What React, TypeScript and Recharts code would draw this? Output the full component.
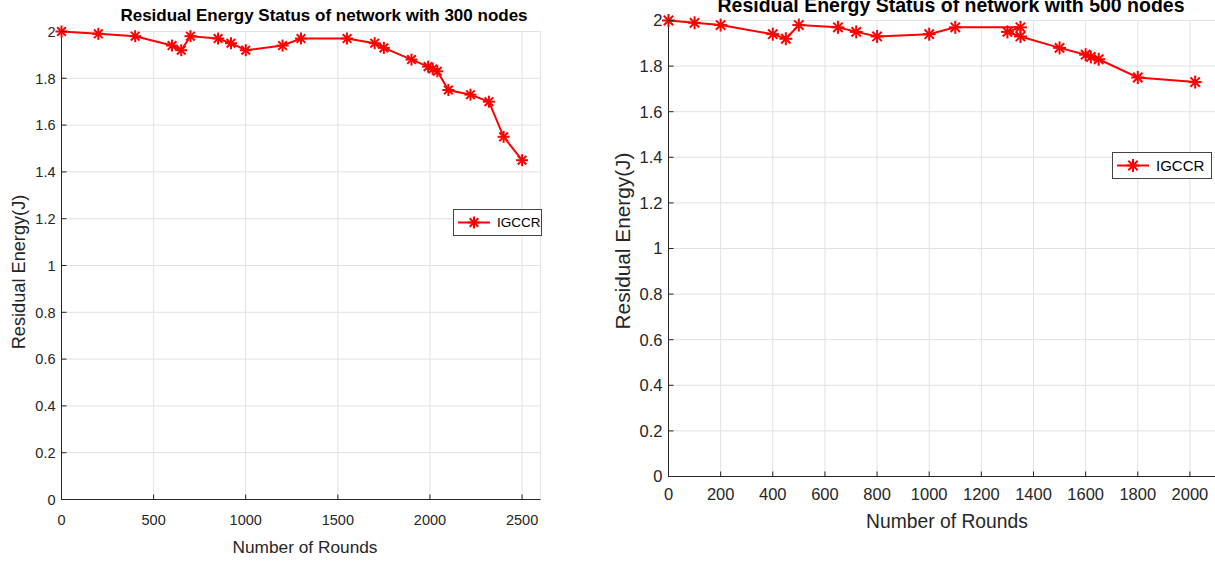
import React from 'react';
import { CartesianGrid, Legend, Line, LineChart, XAxis, YAxis } from 'recharts';

// 300-node network
const rounds300 = [0, 200, 400, 600, 650, 700, 850, 920, 1000, 1200, 1300, 1550, 1700, 1750, 1900, 1990, 2015, 2040, 2100, 2220, 2320, 2400, 2500];
const energy300 = [2.0, 1.99, 1.98, 1.94, 1.92, 1.98, 1.97, 1.95, 1.92, 1.94, 1.97, 1.97, 1.95, 1.93, 1.88, 1.85, 1.84, 1.83, 1.75, 1.73, 1.7, 1.55, 1.45];
const xTicks300 = [0, 500, 1000, 1500, 2000, 2500];

// 500-node network
const rounds500 = [0, 100, 200, 400, 450, 500, 650, 720, 800, 1000, 1100, 1350, 1300, 1350, 1500, 1600, 1620, 1650, 1800, 2020];
const energy500 = [2.0, 1.99, 1.98, 1.94, 1.92, 1.98, 1.97, 1.95, 1.93, 1.94, 1.97, 1.97, 1.95, 1.93, 1.88, 1.85, 1.84, 1.83, 1.75, 1.73];
const xTicks500 = [0, 200, 400, 600, 800, 1000, 1200, 1400, 1600, 1800, 2000];

const yTicks = [0, 0.2, 0.4, 0.6, 0.8, 1, 1.2, 1.4, 1.6, 1.8, 2];
const seriesName = 'IGCCR';

const FONT = '"Liberation Sans", Arial, Helvetica, sans-serif';
const INK = '#262626';
const RED = '#ff0000';
const TICK = 5; // inward tick length, matlab style

const toRows = (xs: number[], ys: number[]) => xs.map((x, i) => ({ x, y: ys[i] }));

function StarMark({ cx, cy, r }: { cx: number; cy: number; r: number }) {
  const d = r * 0.72;
  return (
    <g stroke={RED} strokeWidth={2}>
      <line x1={cx - r} y1={cy} x2={cx + r} y2={cy} />
      <line x1={cx} y1={cy - r} x2={cx} y2={cy + r} />
      <line x1={cx - d} y1={cy - d} x2={cx + d} y2={cy + d} />
      <line x1={cx - d} y1={cy + d} x2={cx + d} y2={cy - d} />
    </g>
  );
}

// tickSize/tickMargin are 0 on every axis, so x/y handed to the tick is the axis line itself
const bottomTick = (font: number, gap: number) => (t: any) => (
  <g>
    <line x1={t.x} x2={t.x} y1={t.y} y2={t.y - TICK} stroke={INK} />
    <text x={t.x} y={t.y + gap + font * 0.72} textAnchor="middle" fontSize={font} fontFamily={FONT} fill={INK}>
      {t.payload.value}
    </text>
  </g>
);
const leftTick = (font: number) => (t: any) => (
  <g>
    <line x1={t.x} x2={t.x + TICK} y1={t.y} y2={t.y} stroke={INK} />
    <text x={t.x - 6} y={t.y + font * 0.36} textAnchor="end" fontSize={font} fontFamily={FONT} fill={INK}>
      {t.payload.value}
    </text>
  </g>
);
const topTick = (t: any) => <line x1={t.x} x2={t.x} y1={t.y} y2={t.y + TICK} stroke={INK} />;
const rightTick = (t: any) => <line x1={t.x} x2={t.x - TICK} y1={t.y} y2={t.y} stroke={INK} />;

interface PanelProps {
  rows: { x: number; y: number }[];
  xTicks: number[];
  xMax: number;
  left: number;
  width: number;
  height: number;
  top: number;
  right: number;
  yAxisW: number;
  xAxisH: number;
  tickFont: number;
  xGap: number;
  star: number;
  legend: { left: number; top: number; width: number; height: number; font: number };
}

function Panel(p: PanelProps) {
  const lg = p.legend;
  const renderLegend = () => (
    <svg width={lg.width} height={lg.height} style={{ display: 'block' }}>
      <rect x={0.5} y={0.5} width={lg.width - 1} height={lg.height - 1} fill="#fff" stroke="#444" />
      <line x1={5} x2={lg.height + 10} y1={lg.height / 2} y2={lg.height / 2} stroke={RED} strokeWidth={2} />
      <StarMark cx={(lg.height + 15) / 2} cy={lg.height / 2} r={p.star} />
      <text x={lg.height + 17} y={lg.height / 2 + lg.font * 0.36} fontSize={lg.font} fontFamily={FONT} fill="#000">
        {seriesName}
      </text>
    </svg>
  );
  return (
    <div style={{ position: 'absolute', left: p.left, top: 0 }}>
      <LineChart width={p.width} height={p.height} data={p.rows} margin={{ top: p.top, right: p.right, bottom: 0, left: 0 }}>
        <CartesianGrid stroke="#e2e2e2" strokeWidth={1} />
        <XAxis
          dataKey="x"
          type="number"
          domain={[0, p.xMax]}
          ticks={p.xTicks}
          interval={0}
          height={p.xAxisH}
          tickSize={0}
          tickMargin={0}
          tickLine={false}
          stroke={INK}
          tick={bottomTick(p.tickFont, p.xGap)}
        />
        <XAxis
          xAxisId="top"
          orientation="top"
          type="number"
          domain={[0, p.xMax]}
          ticks={p.xTicks}
          interval={0}
          height={0}
          tickSize={0}
          tickMargin={0}
          tickLine={false}
          stroke={INK}
          tick={topTick}
        />
        <YAxis
          type="number"
          domain={[0, 2]}
          ticks={yTicks}
          interval={0}
          width={p.yAxisW}
          tickSize={0}
          tickMargin={0}
          tickLine={false}
          stroke={INK}
          tick={leftTick(p.tickFont)}
        />
        <YAxis
          yAxisId="right"
          orientation="right"
          type="number"
          domain={[0, 2]}
          ticks={yTicks}
          interval={0}
          width={0}
          tickSize={0}
          tickMargin={0}
          tickLine={false}
          stroke={INK}
          tick={rightTick}
        />
        <Line
          dataKey="y"
          name={seriesName}
          stroke={RED}
          strokeWidth={2}
          isAnimationActive={false}
          dot={(d: any) => <StarMark key={`s${d.index}`} cx={d.cx} cy={d.cy} r={p.star} />}
          activeDot={false}
        />
        <Legend
          layout="horizontal"
          verticalAlign="middle"
          align="center"
          content={renderLegend}
          wrapperStyle={{ left: lg.left, top: lg.top, width: lg.width, height: lg.height }}
        />
      </LineChart>
    </div>
  );
}

export default function App() {
  return (
    <div style={{ position: 'absolute', left: 0, top: 0, width: 1215, height: 561, overflow: 'hidden', background: '#fff' }}>
      <Panel
        rows={toRows(rounds300, energy300)}
        xTicks={xTicks300}
        xMax={2600}
        left={0}
        width={560}
        height={561}
        top={31.5}
        right={19.5}
        yAxisW={61.5}
        xAxisH={61.5}
        tickFont={14.5}
        xGap={15}
        star={6}
        legend={{ left: 453, top: 209, width: 89, height: 27, font: 13.5 }}
      />
      <Panel
        rows={toRows(rounds500, energy500)}
        xTicks={xTicks500}
        xMax={2100}
        left={600}
        width={616}
        height={561}
        top={20.5}
        right={0}
        yAxisW={68.5}
        xAxisH={84.5}
        tickFont={16.5}
        xGap={12}
        star={6.5}
        legend={{ left: 512, top: 152, width: 100, height: 27, font: 15 }}
      />
      <svg width={1215} height={561} style={{ position: 'absolute', left: 0, top: 0, pointerEvents: 'none' }}>
        <g fontFamily={FONT} fill="#000" textAnchor="middle">
          <text x={324} y={21} fontSize={17} fontWeight="bold">Residual Energy Status of network with 300 nodes</text>
          <text x={951} y={12} fontSize={19.5} fontWeight="bold">Residual Energy Status of network with 500 nodes</text>
        </g>
        <g fontFamily={FONT} fill={INK} textAnchor="middle">
          <text x={305} y={553} fontSize={17.3}>Number of Rounds</text>
          <text x={947} y={528} fontSize={19.3}>Number of Rounds</text>
          <text x={19} y={272} fontSize={18.2} dominantBaseline="central" transform="rotate(-90 19 272)">Residual Energy(J)</text>
          <text x={622} y={241} fontSize={20.8} dominantBaseline="central" transform="rotate(-90 622 241)">Residual Energy(J)</text>
        </g>
      </svg>
    </div>
  );
}
